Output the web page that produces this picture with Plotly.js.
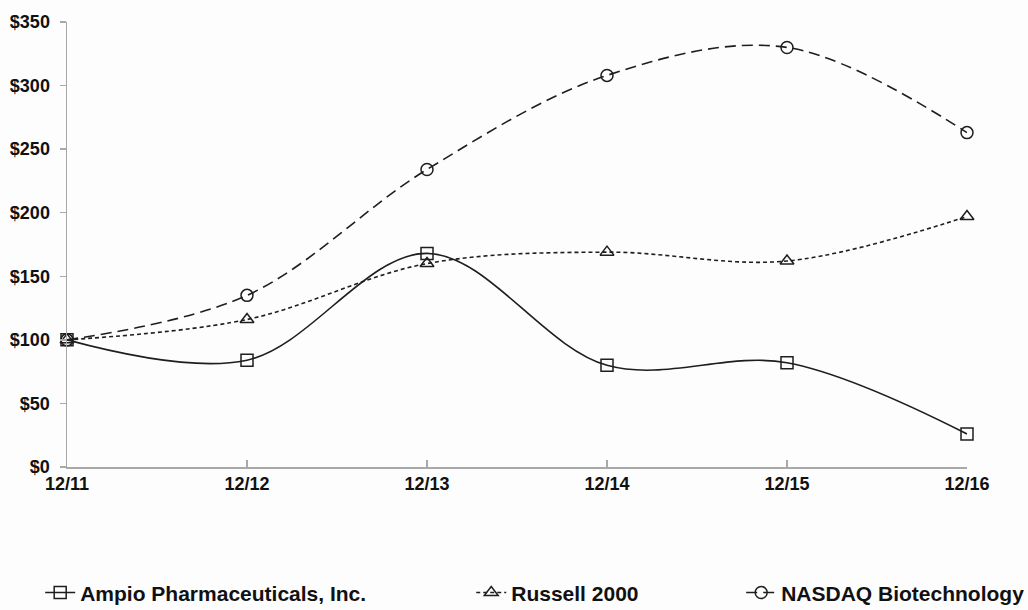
<!DOCTYPE html>
<html>
<head>
<meta charset="utf-8">
<script src="https://cdn.plot.ly/plotly-3.0.1.min.js"></script>
<style>html,body{margin:0;padding:0;background:#fdfdfd;}#chart{width:1028px;height:610px;}</style>
</head>
<body>
<div id="chart"></div>
<script>
const categories = ["12/11", "12/12", "12/13", "12/14", "12/15", "12/16"];
const ampio = [100, 84, 168, 80, 82, 26];
const russell = [100, 116, 160, 169, 162, 197];
const nasdaq = [100, 135, 234, 308, 330, 263];
const yTickVals = [0, 50, 100, 150, 200, 250, 300, 350];
const yTickText = ["$0", "$50", "$100", "$150", "$200", "$250", "$300", "$350"];
const names = ["Ampio Pharmaceuticals, Inc.", "Russell 2000", "NASDAQ Biotechnology"];

const ink = '#1e1e1e';
const FONT = 'Liberation Sans, Arial, sans-serif';
function trace(y, name, dash, symbol, legendId) {
  return {
    x: categories, y: y, name: name, type: 'scatter', mode: 'lines+markers',
    line: {color: ink, width: 1.6, dash: dash, shape: 'spline', smoothing: 1},
    marker: {symbol: symbol, size: 12, color: 'rgba(255,255,255,0)', line: {color: ink, width: 1.5}},
    cliponaxis: false, legend: legendId
  };
}
const data = [
  trace(ampio, names[0], 'solid', 'square', 'legend'),
  trace(russell, names[1], '4px,3px', 'triangle-up', 'legend2'),
  trace(nasdaq, names[2], '11px,6px', 'circle', 'legend3')
];
function leg(x) {
  return {
    orientation: 'h', xref: 'container', yref: 'container',
    x: x, xanchor: 'left', y: 0.028, yanchor: 'middle',
    font: {size: 21, weight: 700, family: FONT, color: '#111'},
    itemwidth: 30, bgcolor: 'rgba(0,0,0,0)'
  };
}
const layout = {
  width: 1028, height: 610,
  paper_bgcolor: '#fdfdfd', plot_bgcolor: '#fdfdfd',
  margin: {l: 67, r: 61, t: 22, b: 143},
  font: {family: FONT, color: '#111', size: 18, weight: 700},
  xaxis: {
    type: 'category', range: [0, 5], showgrid: false, zeroline: false,
    showline: true, linecolor: '#a8a8a8', linewidth: 1.5,
    ticks: 'inside', ticklen: 7, tickcolor: '#a8a8a8', tickwidth: 1.5,
    ticklabelstandoff: 0,
    tickfont: {size: 18, weight: 700, family: FONT, color: '#111'}
  },
  yaxis: {
    range: [0, 350], tickvals: yTickVals, ticktext: yTickText, showgrid: false, zeroline: false,
    showline: true, linecolor: '#a8a8a8', linewidth: 1.5,
    ticks: 'outside', ticklen: 6, tickcolor: '#a8a8a8', tickwidth: 1.5,
    ticklabelstandoff: 6,
    tickfont: {size: 18, weight: 700, family: FONT, color: '#111'}
  },
  showlegend: true,
  legend: leg(0.0391),
  legend2: leg(0.4584),
  legend3: leg(0.721)
};
Plotly.newPlot('chart', data, layout, {displayModeBar: false, staticPlot: true});
</script>
</body>
</html>
